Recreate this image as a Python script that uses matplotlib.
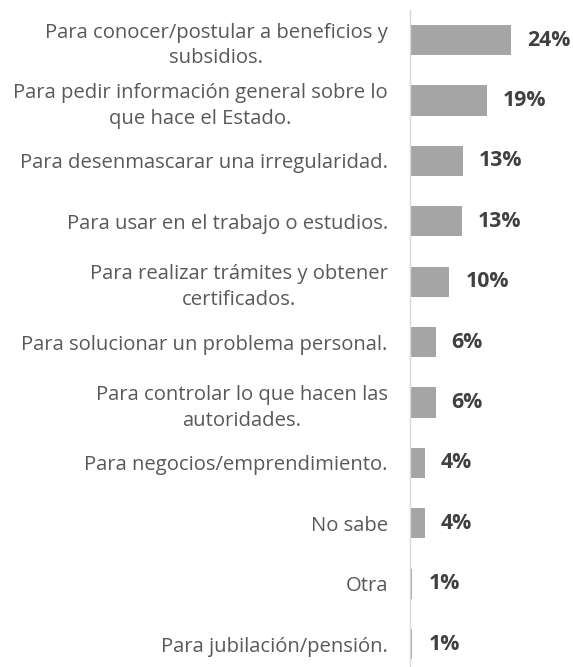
import matplotlib.pyplot as plt

# Survey answers (share of respondents, %)
categories = [
    "Para conocer/postular a beneficios y\nsubsidios.",
    "Para pedir información general sobre lo\nque hace el Estado.",
    "Para desenmascarar una irregularidad.",
    "Para usar en el trabajo o estudios.",
    "Para realizar trámites y obtener\ncertificados.",
    "Para solucionar un problema personal.",
    "Para controlar lo que hacen las\nautoridades.",
    "Para negocios/emprendimiento.",
    "No sabe",
    "Otra",
    "Para jubilación/pensión.",
]
values = [24.3, 18.6, 12.8, 12.6, 9.5, 6.2, 6.2, 3.5, 3.5, 0.6, 0.6]
value_labels = ["24%", "19%", "13%", "13%", "10%", "6%", "6%", "4%", "4%", "1%", "1%"]

plt.rcParams["font.family"] = ["Open Sans", "DejaVu Sans"]

fig = plt.figure(figsize=(5.73, 6.67), dpi=100)
ax = fig.add_axes([410 / 573, 0, 163 / 573, 657 / 667])

pos = list(range(len(categories)))
ax.barh(pos, values, height=0.5, color="#a5a5a5")

for p, v, lab in zip(pos, values, value_labels):
    ax.annotate(lab, (v, p), xytext=(11.5, 0), textcoords="offset points",
                va="center", ha="left", fontsize=15.3, fontweight="bold",
                color="#404040")

ax.set_xlim(0, 39.3)
ax.set_ylim(10.38, -0.5)

ax.set_yticks(pos)
ax.set_yticklabels(categories, fontsize=14.6, color="#595959")
for lbl in ax.get_yticklabels():
    lbl.set_multialignment("center")
    lbl.set_linespacing(1.38)
ax.tick_params(axis="y", length=0, pad=16)
ax.set_xticks([])

for s in ["top", "right", "bottom"]:
    ax.spines[s].set_visible(False)
ax.spines["left"].set_color("#d9d9d9")
ax.spines["left"].set_linewidth(1.0)

fig.savefig("out.png", dpi=100)
